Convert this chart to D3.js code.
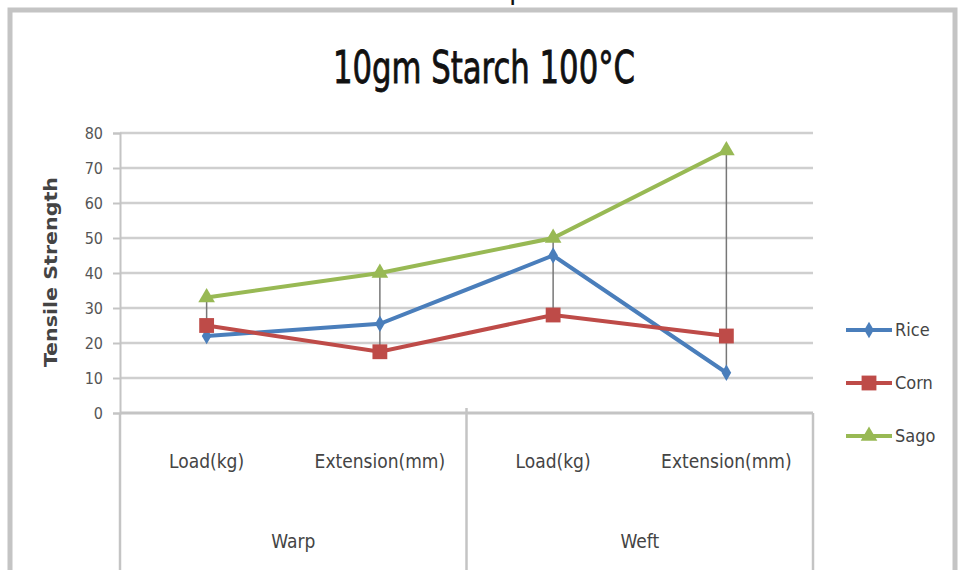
<!DOCTYPE html>
<html>
<head>
<meta charset="utf-8">
<script src="https://cdn.jsdelivr.net/npm/d3@7"></script>
<style>
  body { margin: 0; background: #fff; }
  svg { display: block; }
  text { font-family: "DejaVu Sans", "Noto Sans", sans-serif; font-stretch: condensed; }
</style>
</head>
<body>
<div id="chart"></div>
<script>
// data
var categories = ["Load(kg)", "Extension(mm)", "Load(kg)", "Extension(mm)"];
var groups = ["Warp", "Weft"];
var seriesNames = ["Rice", "Corn", "Sago"];
var rice = [22, 25.5, 45, 11.5];
var corn = [25, 17.5, 28, 22];
var sago = [33, 40, 50, 75];
var yTicks = [0, 10, 20, 30, 40, 50, 60, 70, 80];

var colors = ["#4a7ebb", "#be4b48", "#98b954"];
var series = [rice, corn, sago].map(function(v, i) {
  return { name: seriesNames[i], values: v, color: colors[i] };
});

var width = 958, height = 570;
var plotLeft = 120, plotRight = 813, plotTop = 133, plotBottom = 413;

var svg = d3.select("#chart").append("svg")
  .attr("width", width)
  .attr("height", height);

// chart border
svg.append("rect")
  .attr("x", 10).attr("y", 10)
  .attr("width", 945).attr("height", 600)
  .style("fill", "#fff")
  .style("stroke", "#c4c4c4")
  .style("stroke-width", 5);

// bit of text from the page above, cut off
svg.append("text")
  .attr("x", 509).attr("y", -1)
  .style("font-size", "30px")
  .style("fill", "#111")
  .text("p");

svg.append("text")
  .attr("x", 484).attr("y", 83)
  .attr("text-anchor", "middle")
  .attr("textLength", 302)
  .attr("lengthAdjust", "spacingAndGlyphs")
  .style("font-size", "44px")
  .style("fill", "#111")
  .style("stroke", "#111")
  .style("stroke-width", 0.8)
  .text("10gm Starch 100°C");

var x = d3.scaleBand().domain(d3.range(categories.length)).range([plotLeft, plotRight]);
var y = d3.scaleLinear().domain([0, 80]).range([plotBottom, plotTop]);

// gridlines
svg.append("g")
  .selectAll("line")
  .data(yTicks.filter(function(d) { return d > 0; }))
  .enter().append("line")
  .attr("x1", plotLeft).attr("x2", plotRight)
  .attr("y1", function(d) { return y(d); })
  .attr("y2", function(d) { return y(d); })
  .style("stroke", "#cfcfcf")
  .style("stroke-width", 2.5);

// y axis
var yAxis = svg.append("g")
  .attr("transform", "translate(" + plotLeft + ",0)")
  .call(d3.axisLeft(y).tickValues(yTicks).tickSize(7).tickPadding(10));
yAxis.select(".domain").style("stroke", "#c4c4c4").style("stroke-width", 2);
yAxis.selectAll(".tick line").style("stroke", "#c4c4c4").style("stroke-width", 2);
yAxis.selectAll(".tick text")
  .style("font-size", "16px")
  .style("fill", "#555")
  .style("font-family", "'DejaVu Sans', sans-serif");

svg.append("text")
  .attr("transform", "translate(57,272) rotate(-90)")
  .attr("text-anchor", "middle")
  .attr("textLength", 190)
  .attr("lengthAdjust", "spacingAndGlyphs")
  .style("font-size", "17px")
  .style("font-weight", "bold")
  .style("fill", "#444")
  .text("Tensile Strength");

// x axis with two label levels
var axisG = svg.append("g");
axisG.append("line")
  .attr("x1", plotLeft).attr("x2", plotRight)
  .attr("y1", plotBottom).attr("y2", plotBottom)
  .style("stroke", "#c4c4c4").style("stroke-width", 3);

var groupEdges = [0, 2, 4].map(function(i) {
  return i < categories.length ? x(i) : plotRight;
});
axisG.selectAll(".divider")
  .data(groupEdges)
  .enter().append("line")
  .attr("class", "divider")
  .attr("x1", function(d) { return d; })
  .attr("x2", function(d) { return d; })
  .attr("y1", function(d, i) { return i === 1 ? plotBottom - 5 : plotBottom; })
  .attr("y2", height)
  .style("stroke", "#c4c4c4").style("stroke-width", 2.5);

axisG.selectAll(".cat")
  .data(categories)
  .enter().append("text")
  .attr("class", "cat")
  .attr("x", function(d, i) { return x(i) + x.bandwidth() / 2; })
  .attr("y", 468)
  .attr("text-anchor", "middle")
  .style("font-size", "19px")
  .style("fill", "#444")
  .text(function(d) { return d; });

axisG.selectAll(".grp")
  .data(groups)
  .enter().append("text")
  .attr("class", "grp")
  .attr("x", function(d, i) { return (groupEdges[i] + groupEdges[i + 1]) / 2; })
  .attr("y", 548)
  .attr("text-anchor", "middle")
  .style("font-size", "19px")
  .style("fill", "#444")
  .text(function(d) { return d; });

// high-low lines
svg.append("g")
  .selectAll("line")
  .data(categories)
  .enter().append("line")
  .attr("x1", function(d, i) { return x(i) + x.bandwidth() / 2; })
  .attr("x2", function(d, i) { return x(i) + x.bandwidth() / 2; })
  .attr("y1", function(d, i) { return y(d3.max(series, function(s) { return s.values[i]; })); })
  .attr("y2", function(d, i) { return y(d3.min(series, function(s) { return s.values[i]; })); })
  .style("stroke", "#777")
  .style("stroke-width", 1.5);

var line = d3.line()
  .x(function(d, i) { return x(i) + x.bandwidth() / 2; })
  .y(function(d) { return y(d); });

var symbols = [
  d3.symbol().type(d3.symbolDiamond).size(80),
  d3.symbol().type(d3.symbolSquare).size(220),
  d3.symbol().type(d3.symbolTriangle).size(120)
];

var s = svg.append("g")
  .selectAll("g")
  .data(series)
  .enter().append("g");

s.append("path")
  .attr("d", function(d) { return line(d.values); })
  .style("fill", "none")
  .style("stroke", function(d) { return d.color; })
  .style("stroke-width", 4);

s.each(function(d, k) {
  d3.select(this).selectAll(".pt")
    .data(d.values)
    .enter().append("path")
    .attr("class", "pt")
    .attr("transform", function(v, i) {
      return "translate(" + (x(i) + x.bandwidth() / 2) + "," + y(v) + ")";
    })
    .attr("d", symbols[k])
    .style("fill", d.color);
});

// legend
var legend = svg.append("g")
  .selectAll("g")
  .data(series)
  .enter().append("g")
  .attr("transform", function(d, i) { return "translate(846," + (330 + i * 53) + ")"; });

legend.append("line")
  .attr("x1", 0).attr("x2", 46)
  .style("stroke", function(d) { return d.color; })
  .style("stroke-width", 4);

legend.append("path")
  .attr("transform", "translate(23,0)")
  .attr("d", function(d, i) { return symbols[i](); })
  .style("fill", function(d) { return d.color; });

legend.append("text")
  .attr("x", 49).attr("y", 6)
  .style("font-size", "18px")
  .style("fill", "#444")
  .text(function(d) { return d.name; });
</script>
</body>
</html>
